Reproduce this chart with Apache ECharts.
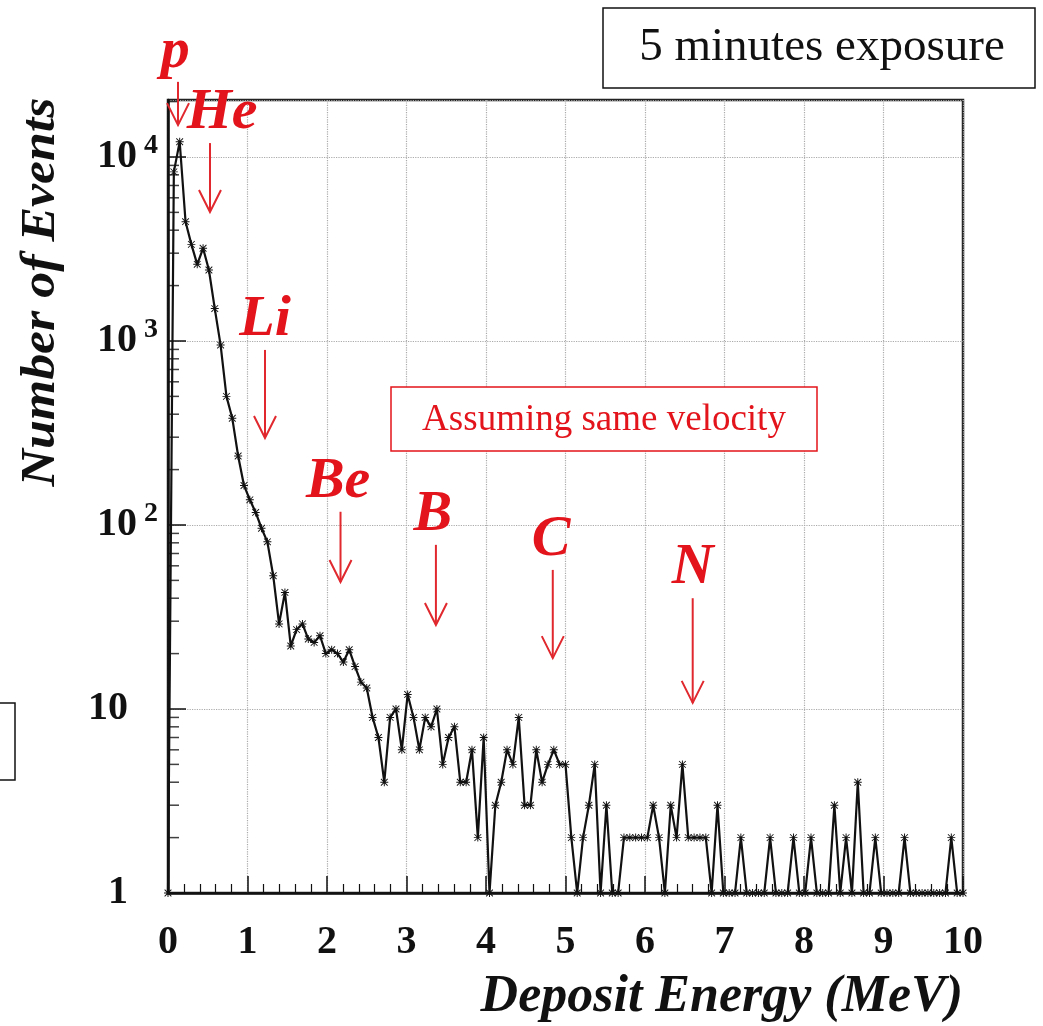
<!DOCTYPE html>
<html>
<head>
<meta charset="utf-8">
<script src="https://cdn.jsdelivr.net/npm/echarts@6/dist/echarts.min.js"></script>
<style>
html, body { margin: 0; padding: 0; background: #fff; }
#chart { width: 1043px; height: 1026px; }
</style>
</head>
<body>
<div id="chart"></div>
<script>
// 136 bins over 0-10 MeV, point i drawn at i * binWidth
const binWidth = 10 / 136;
const counts = [
  1, 8300, 12100, 4450, 3350, 2610, 3190, 2430, 1500, 950,
  500, 380, 237, 164, 137, 117, 96, 81, 53, 29,
  43, 22, 27, 29, 24, 23, 25, 20, 21, 20,
  18, 21, 17, 14, 13, 9, 7, 4, 9, 10,
  6, 12, 9, 6, 9, 8, 10, 5, 7, 8,
  4, 4, 6, 2, 7, 1, 3, 4, 6, 5,
  9, 3, 3, 6, 4, 5, 6, 5, 5, 2,
  1, 2, 3, 5, 1, 3, 1, 1, 2, 2,
  2, 2, 2, 3, 2, 1, 3, 2, 5, 2,
  2, 2, 2, 1, 3, 1, 1, 1, 2, 1,
  1, 1, 1, 2, 1, 1, 1, 2, 1, 1,
  2, 1, 1, 1, 3, 1, 2, 1, 4, 1,
  1, 2, 1, 1, 1, 1, 2, 1, 1, 1,
  1, 1, 1, 1, 2, 1, 1
];

const xTicks = [0, 1, 2, 3, 4, 5, 6, 7, 8, 9, 10];
const yDecades = [1, 10, 100, 1000, 10000];
const yMax = 20400;

// ion markers: label, arrow energy, arrow top / tip (in counts), label energy
const ionLabels = ["p", "He", "Li", "Be", "B", "C", "N"];
const ionArrowE = [0.126, 0.528, 1.22, 2.17, 3.37, 4.84, 6.6];
const ionArrowTop = [25600, 11900, 894, 118, 78, 57, 40];
const ionArrowTip = [14900, 5020, 297, 49, 28.6, 18.9, 10.8];
const ionTextE = [0.09, 0.68, 1.22, 2.14, 3.33, 4.82, 6.6];

const red = "#e3141b";
const serif = "Liberation Serif";

const myChart = echarts.init(document.getElementById("chart"));

const lineData = counts.map((c, i) => [i * binWidth, c]);

// minor ticks of the log axis (2..9 per decade)
const minorTicks = [];
yDecades.forEach((d) => {
  for (let k = 2; k <= 9; k++) {
    if (d * k <= yMax) minorTicks.push([0, d * k]);
  }
});

const starPath =
  "path://M4.4,0h1.2v10h-1.2z M0,4.4h10v1.2h-10z M1.2,0.4L9.6,8.8L8.8,9.6L0.4,1.2z M8.8,0.4L9.6,1.2L1.2,9.6L0.4,8.8z";

const option = {
  animation: false,
  grid: {
    left: 168,
    right: 80,
    top: 100,
    bottom: 133,
    show: true,
    borderColor: "#222",
    borderWidth: 2.5,
  },
  xAxis: {
    type: "value",
    min: 0,
    max: 10,
    interval: 1,
    axisLine: { show: true, lineStyle: { color: "#111", width: 2.5 } },
    axisTick: { inside: true, length: 17, lineStyle: { color: "#111", width: 1.5 } },
    minorTick: { show: true, splitNumber: 5, length: 9, lineStyle: { color: "#111", width: 1.2 } },
    splitLine: { show: true, lineStyle: { color: "#aaa", type: "dotted", width: 1.2 } },
    axisLabel: {
      margin: 30,
      color: "#111",
      fontFamily: serif,
      fontWeight: "bold",
      fontSize: 40,
    },
  },
  yAxis: {
    type: "log",
    logBase: 10,
    min: 1,
    max: yMax,
    axisLine: { show: true, lineStyle: { color: "#111", width: 2.5 } },
    axisTick: { inside: true, length: 18, lineStyle: { color: "#111", width: 1.5 } },
    splitLine: { show: true, lineStyle: { color: "#aaa", type: "dotted", width: 1.2 } },
    axisLabel: {
      margin: 10,
      showMaxLabel: false,
      formatter: function (v) {
        const p = Math.round(Math.log10(v));
        if (v > 10001) return "";
        if (p === 0) return "{b|1}{pad| }";
        if (p === 1) return "{b|10}{pad| }";
        return "{b|10}{s| " + p + "}";
      },
      rich: {
        b: { fontFamily: serif, fontWeight: "bold", fontSize: 40, color: "#111" },
        s: { fontFamily: serif, fontWeight: "bold", fontSize: 28, color: "#111", padding: [0, 0, 22, 0] },
        pad: { width: 30, fontSize: 28 },
      },
    },
  },
  series: [
    {
      name: "events",
      type: "line",
      data: lineData,
      symbol: starPath,
      symbolSize: 8,
      showAllSymbol: true,
      color: "#111",
      lineStyle: { color: "#111", width: 2.2 },
      itemStyle: { color: "#111" },
      z: 5,
    },
    {
      name: "minor",
      type: "scatter",
      data: minorTicks,
      symbol: "rect",
      symbolSize: [11, 1.5],
      symbolOffset: [5.5, 0],
      itemStyle: { color: "#111" },
      silent: true,
      clip: false,
      z: 4,
    },
  ],
};

myChart.setOption(option);

function buildGraphic() {
  const g = [];
  // boxes with notes
  g.push({
    type: "rect",
    shape: { x: 603, y: 8, width: 432, height: 80 },
    style: { fill: "#fff", stroke: "#111", lineWidth: 1.5 },
  });
  g.push({
    type: "text",
    x: 822,
    y: 48,
    style: { text: "5 minutes exposure", font: "47px " + serif, fill: "#111", textAlign: "center", textVerticalAlign: "middle" },
  });
  g.push({
    type: "rect",
    shape: { x: 391, y: 387, width: 426, height: 64 },
    style: { fill: "#fff", stroke: red, lineWidth: 1.5 },
    z: 10,
  });
  g.push({
    type: "text",
    x: 604,
    y: 420,
    z: 11,
    style: { text: "Assuming same velocity", font: "37px " + serif, fill: red, textAlign: "center", textVerticalAlign: "middle" },
  });
  g.push({
    type: "rect",
    shape: { x: -20, y: 703, width: 35, height: 77 },
    style: { fill: "none", stroke: "#111", lineWidth: 1.5 },
  });
  // axis titles
  g.push({
    type: "text",
    x: 42,
    y: 292,
    rotation: Math.PI / 2,
    scaleX: 1.08,
    style: { text: "Number of Events", font: "italic bold 48px " + serif, fill: "#111", textAlign: "center", textVerticalAlign: "middle" },
  });
  g.push({
    type: "text",
    x: 963,
    y: 998,
    style: { text: "Deposit Energy (MeV)", font: "italic bold 52px " + serif, fill: "#111", textAlign: "right", textVerticalAlign: "middle" },
  });
  // ion arrows and labels
  ionLabels.forEach((name, k) => {
    const top = myChart.convertToPixel({ gridIndex: 0 }, [ionArrowE[k], ionArrowTop[k]]);
    const tip = myChart.convertToPixel({ gridIndex: 0 }, [ionArrowE[k], ionArrowTip[k]]);
    const tx = myChart.convertToPixel({ gridIndex: 0 }, [ionTextE[k], 1])[0];
    g.push({
      type: "polyline",
      z: 12,
      shape: { points: [top, tip] },
      style: { stroke: "#e0282e", lineWidth: 2, fill: null },
    });
    g.push({
      type: "polyline",
      z: 12,
      shape: { points: [[tip[0] - 11, tip[1] - 22], tip, [tip[0] + 11, tip[1] - 22]] },
      style: { stroke: "#e0282e", lineWidth: 2, fill: null },
    });
    g.push({
      type: "text",
      z: 12,
      x: tx,
      y: top[1] - 30,
      style: { text: name, font: "italic bold 58px " + serif, fill: red, textAlign: "center", textVerticalAlign: "middle" },
    });
  });
  return g;
}

myChart.setOption({ graphic: buildGraphic() });
</script>
</body>
</html>
